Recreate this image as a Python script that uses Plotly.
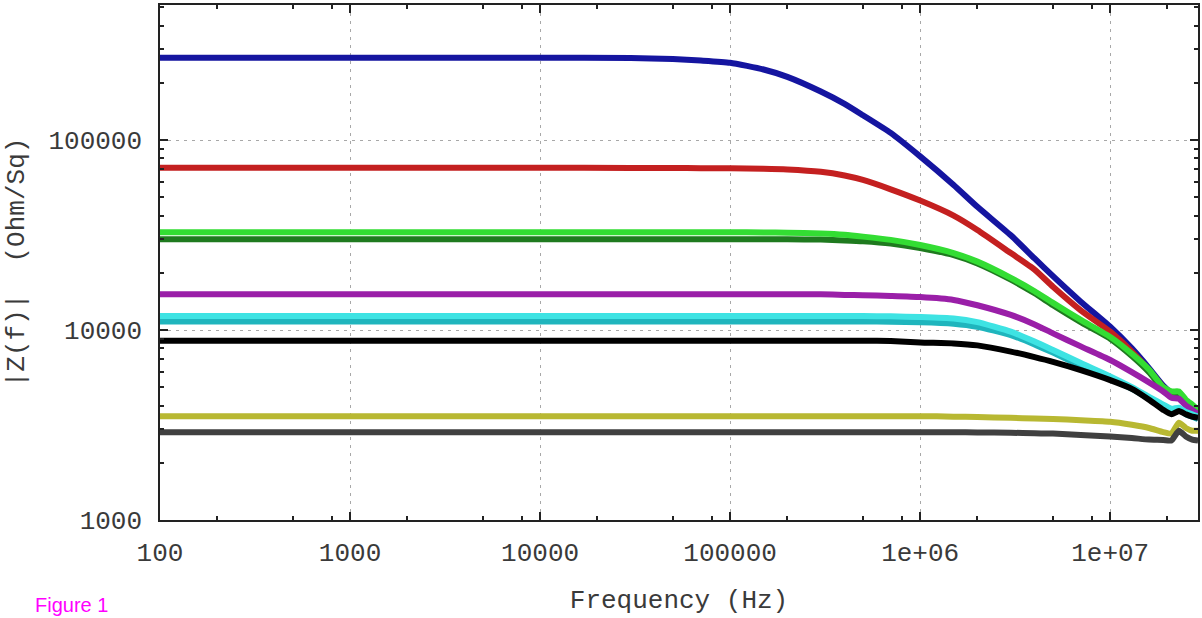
import plotly.graph_objects as go

freq = [100, 1e3, 1e4, 3e4, 5e4, 7e4, 1e5, 1.5e5, 2e5, 3e5, 4e5, 5e5, 7e5, 1e6, 1.5e6, 2e6, 3e6, 4e6, 5e6, 7e6,
        1e7, 1.3e7, 1.6e7, 1.9e7, 2.1e7, 2.3e7, 2.5e7, 2.7e7, 2.9e7]

blue = [271e3, 271e3, 271e3, 270e3, 267e3, 262e3, 255e3, 235e3, 215e3, 180e3, 155e3, 135e3, 109e3, 82e3, 58e3, 44.5e3, 31.5e3, 23.8e3, 19.2e3, 14.1e3,
        10.4e3, 8.0e3, 6.3e3, 5.1e3, 4.7e3, 4.65e3, 4.2e3, 3.95e3, 3.75e3]
red = [71.4e3, 71.4e3, 71.4e3, 71.3e3, 71.2e3, 71.1e3, 71e3, 70.6e3, 70e3, 68e3, 65e3, 61.6e3, 55e3, 48e3, 40e3, 33.6e3, 25.4e3, 20.8e3, 16.9e3, 12.7e3,
       9.8e3, 7.7e3, 6.15e3, 5.0e3, 4.65e3, 4.6e3, 4.2e3, 3.95e3, 3.75e3]
dgreen = [30e3, 30e3, 30e3, 30e3, 30e3, 30e3, 30e3, 30e3, 30e3, 29.9e3, 29.6e3, 29.3e3, 28.5e3, 27e3, 24.8e3, 22.4e3, 18.4e3, 15.6e3, 13.5e3, 11.0e3,
          9.0e3, 7.3e3, 6.0e3, 4.9e3, 4.6e3, 4.6e3, 4.2e3, 3.95e3, 3.7e3]
lgreen = [32.7e3, 32.7e3, 32.7e3, 32.7e3, 32.7e3, 32.7e3, 32.7e3, 32.6e3, 32.5e3, 32.2e3, 31.7e3, 31e3, 29.8e3, 28e3, 25.4e3, 22.9e3, 18.8e3, 16e3, 13.9e3, 11.3e3,
          9.2e3, 7.5e3, 6.2e3, 5.0e3, 4.75e3, 4.75e3, 4.3e3, 4.05e3, 3.8e3]
purple = [15.4e3, 15.4e3, 15.4e3, 15.4e3, 15.4e3, 15.4e3, 15.4e3, 15.4e3, 15.4e3, 15.4e3, 15.3e3, 15.25e3, 15.1e3, 14.9e3, 14.4e3, 13.5e3, 12e3, 10.7e3, 9.6e3, 8.2e3,
          6.95e3, 6.0e3, 5.3e3, 4.75e3, 4.4e3, 4.35e3, 4.0e3, 3.8e3, 3.6e3]
teal = [11.1e3, 11.1e3, 11.1e3, 11.1e3, 11.1e3, 11.1e3, 11.1e3, 11.1e3, 11.1e3, 11.1e3, 11.1e3, 11.1e3, 11.05e3, 11.0e3, 10.8e3, 10.4e3, 9.4e3, 8.4e3, 7.6e3, 6.5e3,
        5.55e3, 4.9e3, 4.35e3, 3.95e3, 3.75e3, 3.8e3, 3.6e3, 3.5e3, 3.4e3]
cyan = [11.85e3, 11.85e3, 11.85e3, 11.85e3, 11.85e3, 11.85e3, 11.85e3, 11.85e3, 11.85e3, 11.85e3, 11.85e3, 11.85e3, 11.8e3, 11.7e3, 11.5e3, 11.0e3, 9.8e3, 8.7e3, 7.85e3, 6.7e3,
        5.7e3, 5.0e3, 4.45e3, 4.05e3, 3.85e3, 3.9e3, 3.7e3, 3.6e3, 3.5e3]
black = [8.79e3, 8.79e3, 8.79e3, 8.79e3, 8.79e3, 8.79e3, 8.79e3, 8.79e3, 8.79e3, 8.79e3, 8.79e3, 8.79e3, 8.75e3, 8.6e3, 8.5e3, 8.3e3, 7.7e3, 7.2e3, 6.8e3, 6.15e3,
         5.45e3, 4.9e3, 4.3e3, 3.8e3, 3.6e3, 3.75e3, 3.6e3, 3.5e3, 3.45e3]
olive = [3.52e3, 3.52e3, 3.52e3, 3.52e3, 3.52e3, 3.52e3, 3.52e3, 3.52e3, 3.52e3, 3.52e3, 3.52e3, 3.52e3, 3.52e3, 3.52e3, 3.5e3, 3.48e3, 3.45e3, 3.42e3, 3.4e3, 3.35e3,
         3.29e3, 3.17e3, 3.05e3, 2.9e3, 2.85e3, 3.25e3, 3.05e3, 2.95e3, 2.95e3]
dgray = [2.895e3, 2.895e3, 2.895e3, 2.895e3, 2.895e3, 2.895e3, 2.895e3, 2.895e3, 2.895e3, 2.895e3, 2.895e3, 2.895e3, 2.895e3, 2.895e3, 2.895e3, 2.89e3, 2.88e3, 2.86e3, 2.85e3, 2.8e3,
         2.75e3, 2.7e3, 2.65e3, 2.64e3, 2.62e3, 2.95e3, 2.75e3, 2.65e3, 2.62e3]

series = [
    ("blue", blue, "#1515a0"),
    ("red", red, "#c42020"),
    ("dgreen", dgreen, "#1f7a1f"),
    ("lgreen", lgreen, "#33dd33"),
    ("purple", purple, "#9a1fa8"),
    ("teal", teal, "#1fb5bd"),
    ("cyan", cyan, "#3ee3e3"),
    ("black", black, "#000000"),
    ("olive", olive, "#b8b832"),
    ("dgray", dgray, "#404040"),
]

xtick_vals = [100, 1e3, 1e4, 1e5, 1e6, 1e7]
xtick_text = ["100", "1000", "10000", "100000", "1e+06", "1e+07"]
ytick_vals = [1e3, 1e4, 1e5]
ytick_text = ["1000", "10000", "100000"]

xminor = [m * 10 ** d for d in range(2, 8) for m in (2, 5, 8)]
yminor = [m * 10 ** d for d in range(3, 6) for m in range(2, 10)]

fig = go.Figure()
for name, vals, col in series:
    fig.add_trace(go.Scatter(x=freq, y=vals, mode="lines", name=name,
                             line=dict(color=col, width=6, shape="spline", smoothing=0.5),
                             showlegend=False))

font_mono = "Liberation Mono, DejaVu Sans Mono, monospace"
txt_col = "#3a3a3a"
fig.update_layout(
    width=1202, height=618,
    margin=dict(l=160, r=2, t=5, b=98),
    paper_bgcolor="white", plot_bgcolor="white",
    xaxis=dict(type="log", range=[2, 7.462], tickmode="array", tickvals=xtick_vals, ticktext=xtick_text,
               ticks="inside", ticklen=8, tickwidth=1.5, tickcolor="#222", ticklabelstandoff=8,
               showline=True, linecolor="#222", linewidth=1.5, mirror="ticks",
               showgrid=True, gridcolor="#a8a8a8", griddash="3px,5px", gridwidth=1,
               tickfont=dict(family=font_mono, size=26, color=txt_col),
               minor=dict(tickmode="array", tickvals=xminor, ticks="inside", ticklen=4, tickwidth=1.5,
                          tickcolor="#222", showgrid=False),
               title=dict(text="Frequency (Hz)", font=dict(family=font_mono, size=26, color=txt_col), standoff=22),
               zeroline=False),
    yaxis=dict(type="log", range=[3, 5.7105], tickmode="array", tickvals=ytick_vals, ticktext=ytick_text,
               ticks="inside", ticklen=8, tickwidth=1.5, tickcolor="#222", ticklabelstandoff=11,
               showline=True, linecolor="#222", linewidth=1.5, mirror="ticks",
               showgrid=True, gridcolor="#a8a8a8", griddash="3px,5px", gridwidth=1,
               tickfont=dict(family=font_mono, size=26, color=txt_col),
               minor=dict(tickmode="array", tickvals=yminor, ticks="inside", ticklen=4, tickwidth=1.5,
                          tickcolor="#222", showgrid=False),
               title=dict(text="|Z(f)|\u00a0\u00a0(Ohm/Sq)", font=dict(family=font_mono, size=26, color=txt_col), standoff=16),
               zeroline=False),
    annotations=[dict(text="Figure 1", xref="paper", yref="paper", x=-0.122, y=-0.165,
                      xanchor="left", yanchor="middle", showarrow=False,
                      font=dict(family="Liberation Sans, Arial, sans-serif", size=20, color="#ff00ff"))],
)

fig.write_html("out.html")
